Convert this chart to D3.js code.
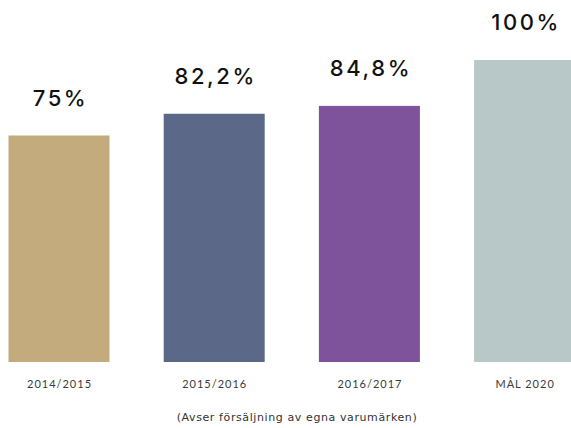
<!DOCTYPE html>
<html><head><meta charset="utf-8">
<script src="https://cdn.jsdelivr.net/npm/d3@7"></script>
<style>body{margin:0;background:#fff}svg{display:block}</style>
</head><body>
<svg id="c" width="571" height="428"></svg>
<script>
const categories = ["2014/2015", "2015/2016", "2016/2017", "MÅL 2020"];
const values = [75, 82.2, 84.8, 100];
const valueLabels = ["75%", "82,2%", "84,8%", "100%"];
const colors = ["#c4ab7e", "#5c6888", "#7f539b", "#b8c7c8"];
const footnote = "(Avser försäljning av egna varumärken)";

const svg = d3.select("#c");
const baseY = 362;
const step = 155.2, barW = 101;
const x = d3.scaleBand().domain(categories)
  .range([8.5, 8.5 + 3 * step + barW])
  .paddingInner((step - barW) / step).paddingOuter(0);
const y = d3.scaleLinear().domain([0, 100]).range([baseY, 60]);

svg.selectAll("rect.bar").data(values).join("rect")
  .attr("class", "bar")
  .attr("x", (d, i) => x(categories[i]))
  .attr("y", d => y(d))
  .attr("width", x.bandwidth())
  .attr("height", d => baseY - y(d))
  .attr("fill", (d, i) => colors[i]);

svg.selectAll("text.val").data(values).join("text")
  .attr("class", "val")
  .attr("x", (d, i) => x(categories[i]) + x.bandwidth() / 2 + 1.5)
  .attr("y", d => y(d) - 30)
  .attr("text-anchor", "middle")
  .attr("font-family", "Inter, sans-serif")
  .attr("font-size", 22)
  .attr("font-weight", 500)
  .attr("letter-spacing", 2.6)
  .attr("fill", "#111")
  .text((d, i) => valueLabels[i]);

const xAxis = d3.axisBottom(x).tickSize(0).tickPadding(0);
const ax = svg.append("g").attr("transform", `translate(0,${baseY + 18})`).call(xAxis);
ax.select(".domain").remove();
ax.selectAll("text")
  .attr("font-family", "Lato, sans-serif")
  .attr("font-size", 11)
  .attr("font-weight", 400)
  .attr("letter-spacing", 1)
  .attr("fill", "#3a3a3a")
  .attr("dx", 0.5);

svg.append("text")
  .attr("x", 297).attr("y", 421)
  .attr("text-anchor", "middle")
  .attr("font-family", "'DejaVu Sans', sans-serif")
  .attr("font-size", 11)
  .attr("letter-spacing", 0.6)
  .attr("fill", "#333")
  .text(footnote);
</script>
</body></html>
